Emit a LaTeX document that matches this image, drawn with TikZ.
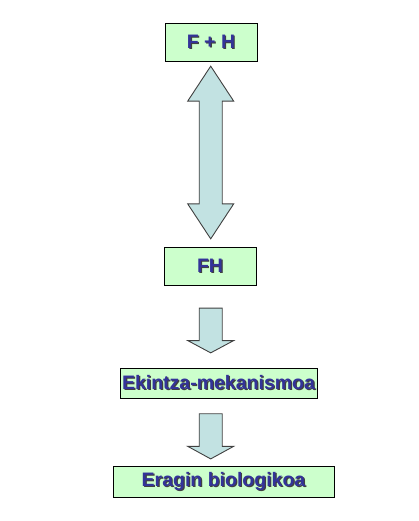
\documentclass[tikz,border=0pt]{standalone}
\usepackage{fontspec}
\setmainfont{Liberation Sans}
\usetikzlibrary{calc}
\definecolor{boxgreen}{HTML}{CCFFCC}
\definecolor{arrowblue}{HTML}{C2E2E2}
\definecolor{textblue}{HTML}{333399}
\newcommand{\shadowed}[1]{\makebox[0pt][l]{\hspace{1.2pt}\raisebox{-1.2pt}{\color{black!75}#1}}{\color{textblue}#1}}
\tikzset{
  stagebox/.style={draw=black, line width=0.9pt, fill=boxgreen, inner sep=0pt,
    font=\fontsize{19.5}{19.5}\bfseries\selectfont},
  blockarrow/.style={draw=black!75, line width=0.9pt, fill=arrowblue, line join=miter}
}
\begin{document}
\begin{tikzpicture}[x=1pt, y=-1pt]
\useasboundingbox (0,0) rectangle (418,521);
\node[stagebox, minimum width=92pt, minimum height=38pt] (fplush) at (211,42) {\shadowed{F + H}};
\node[stagebox, minimum width=92pt, minimum height=38pt] (fh) at (210,266) {\shadowed{FH}};
\node[stagebox, minimum width=197pt, minimum height=30pt] (ekintza) at (218.5,383) {\shadowed{Ekintza-mekanismoa}};
\node[stagebox, minimum width=221pt, minimum height=30.5pt] (eragin) at (223.5,482) {\shadowed{Eragin biologikoa}};
% double arrow between F + H and FH
\coordinate (up) at ($(fplush.south)+(-0.3,4.7)$);
\coordinate (down) at ($(fh.north)+(0.7,-7.7)$);
\draw[blockarrow] (up) -- ++(23,35) -- ++(-11.5,0) |- ($(down)+(11.5,-35)$)
  -- ++(11.5,0) -- (down) -- ++(-23,-35) -- ++(11.5,0) |- ($(up)+(-11.5,35)$)
  -- ++(-11.5,0) -- cycle;
% single arrows
\coordinate (a2top) at ($(fh.south)+(0.7,22.7)$);
\coordinate (a2tip) at ($(ekintza.north)+(-7.8,-14.7)$);
\draw[blockarrow] ($(a2top)+(-11.5,0)$) -- ++(23,0) |- ($(a2tip)+(11.5,-12.3)$)
  -- ++(11.5,0) -- (a2tip) -- ++(-23,-12.3) -- ++(11.5,0) -- cycle;
\coordinate (a3top) at ($(ekintza.south)+(-7.8,15.3)$);
\coordinate (a3tip) at ($(eragin.north)+(-12.8,-7.4)$);
\draw[blockarrow] ($(a3top)+(-11.5,0)$) -- ++(23,0) |- ($(a3tip)+(11.5,-12.6)$)
  -- ++(11.5,0) -- (a3tip) -- ++(-23,-12.6) -- ++(11.5,0) -- cycle;
\end{tikzpicture}
\end{document}
